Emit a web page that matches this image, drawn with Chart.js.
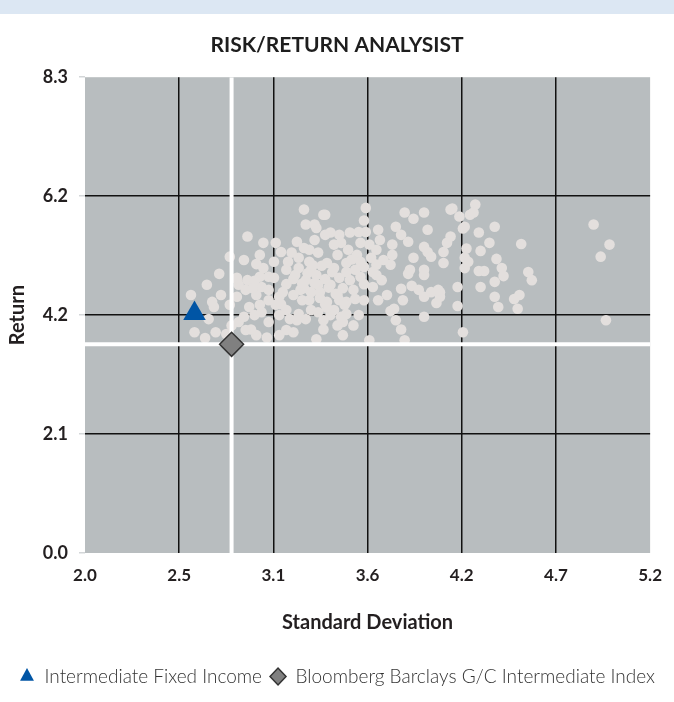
<!DOCTYPE html>
<html lang="en">
<head>
    <meta charset="UTF-8">
    <title>Risk/Return Analysist</title>
    <script src="https://cdn.jsdelivr.net/npm/chart.js@4.4.0/dist/chart.umd.min.js"></script>
    <style>
        body {
            margin: 0;
            background: #fff;
            font-family: Lato, sans-serif;
        }
        .wrap {
            position: relative;
            width: 674px;
            height: 702px;
        }
        .band {
            position: absolute;
            top: 0;
            left: 0;
            width: 674px;
            height: 14px;
            background: #dce7f3;
        }
    </style>
</head>
<body>
    <div class="wrap">
        <div class="band"></div>
        <canvas id="riskChart" width="674" height="702"></canvas>
    </div>

    <script>
        // peer group funds: standard deviation / return
        const peerRisk = [
            4.88, 4.97, 4.92, 4.95,
            4.08, 4.12, 4.21, 4.18, 4.20, 4.14, 4.15, 4.07, 4.05, 4.03, 4.03, 4.16, 4.15, 4.17, 4.15,
            4.01, 4.01, 4.11, 4.11, 4.14, 4.32, 4.23, 4.29, 4.24, 4.47, 4.23, 4.26, 4.33, 4.36, 4.37,
            4.24, 4.32, 4.32, 4.34, 4.43, 4.46, 4.45, 4.51, 4.53,
            3.36, 3.59, 3.58, 3.59, 3.81, 3.86, 3.92, 3.76, 3.79, 3.83, 3.94, 4.07, 3.67, 3.65, 3.65,
            3.63, 3.74, 3.73, 3.84, 3.92, 3.94, 3.96, 3.92, 3.50, 3.39, 3.45, 3.56, 3.54, 3.43, 3.37,
            3.48, 3.58, 3.48,
            3.63, 3.79, 3.85, 3.92, 3.96, 4.00, 3.99, 3.75, 3.73, 3.76, 3.79, 3.92, 3.61, 3.81, 3.46,
            3.43, 3.46, 3.39, 3.48, 3.53, 3.48, 3.43, 3.39, 3.58, 3.56, 3.37, 3.65, 3.83, 3.92,
            2.82, 2.92, 3.01, 3.08, 2.99, 2.97, 2.90, 3.24, 3.25, 3.31, 3.30, 3.35, 3.20, 3.17, 3.27,
            3.32, 3.14, 3.36,
            2.60, 2.69, 2.77, 2.86, 2.92, 2.99, 3.00, 3.04, 2.91, 2.87, 2.82, 2.73, 2.72, 2.70, 2.62,
            2.74, 2.80, 2.83, 2.87, 2.90, 2.97, 2.94, 2.91, 3.00, 3.04, 3.03, 3.10, 3.08, 3.10, 3.11,
            3.14, 3.18, 3.16, 3.14, 3.18, 3.14, 3.22, 3.23, 3.21, 3.25, 3.32, 3.36, 3.28, 3.32, 3.25,
            3.36, 3.35, 3.31, 2.76, 2.86, 2.97, 2.99, 2.93, 2.68, 2.86, 2.96, 3.07,
            3.15, 3.21, 3.27, 3.21, 3.28, 3.34, 3.31, 3.41, 3.44, 3.50, 3.46, 3.52, 3.41, 3.30, 3.24,
            3.49, 3.44, 3.55, 3.61, 3.62, 3.56, 3.53, 3.44, 3.27, 3.18, 3.24, 3.33, 3.41, 3.28, 3.20,
            3.10, 3.04, 3.01, 3.07, 3.11, 3.04, 2.96, 3.68, 3.71, 3.66, 3.69, 3.66, 3.74, 3.86, 3.89,
            3.80, 3.58, 3.55, 3.35, 3.52,
            3.26, 3.30, 3.38, 3.42, 3.47, 3.33, 3.40, 3.51, 3.23, 3.37, 3.45, 3.29, 3.19, 3.12, 2.95
        ];
        const peerReturn = [
            5.73, 5.38, 5.17, 4.06,
            6.01, 5.87, 6.08, 5.90, 5.94, 5.66, 5.69, 5.52, 5.41, 5.25, 5.06, 5.31, 5.15, 5.08, 4.97,
            4.55, 4.47, 4.64, 4.31, 3.85, 5.69, 5.59, 5.41, 5.27, 5.39, 4.92, 4.92, 5.13, 4.97, 4.83,
            4.64, 4.73, 4.47, 4.29, 4.43, 4.50, 4.26, 4.90, 4.76,
            5.90, 6.02, 5.80, 5.60, 5.94, 5.83, 5.94, 5.69, 5.55, 5.43, 5.64, 5.99, 5.46, 5.29, 5.03,
            4.90, 5.20, 5.03, 4.94, 5.34, 5.25, 5.17, 4.94, 5.59, 5.59, 5.41, 5.41, 5.20, 5.20, 5.06,
            5.06, 4.99, 4.90,
            4.64, 4.61, 4.66, 4.47, 4.55, 4.59, 4.36, 4.26, 4.22, 4.06, 3.90, 4.12, 3.71, 3.71, 3.80,
            3.97, 4.03, 4.15, 4.17, 4.43, 4.38, 4.50, 4.68, 4.69, 4.82, 4.38, 4.85, 4.87, 4.85,
            5.17, 5.52, 5.41, 5.41, 5.20, 5.04, 5.11, 5.99, 5.73, 5.67, 5.73, 5.90, 5.43, 5.24, 5.29,
            5.24, 4.94, 5.55,
            4.50, 4.68, 4.50, 4.78, 4.76, 4.82, 4.64, 4.82, 4.59, 4.68, 4.33, 4.29, 4.38, 4.08, 3.85,
            3.85, 3.82, 3.97, 4.03, 4.12, 3.80, 3.90, 3.89, 4.20, 4.03, 3.76, 3.80, 4.33, 4.47, 4.34,
            3.89, 3.85, 4.08, 4.24, 4.78, 4.69, 4.59, 4.41, 4.17, 4.08, 4.20, 4.34, 4.55, 4.68, 4.76,
            4.78, 3.90, 3.73, 4.87, 4.47, 4.50, 4.33, 4.29, 3.75, 4.80, 4.75, 4.80,
            5.08, 5.15, 5.08, 4.97, 4.94, 5.01, 4.85, 4.97, 4.80, 4.76, 4.62, 4.59, 5.38, 5.46, 5.32,
            5.29, 5.55, 5.60, 5.38, 5.15, 5.08, 4.94, 4.41, 4.41, 4.50, 4.62, 4.55, 4.24, 4.24, 4.06,
            4.15, 4.41, 4.97, 5.08, 5.25, 4.59, 4.15, 4.76, 4.50, 4.41, 5.11, 5.64, 5.38, 5.15, 4.59,
            4.41, 4.41, 4.15, 4.06, 3.97,
            4.88, 4.71, 4.63, 4.52, 4.33, 4.45, 4.90, 5.12, 4.70, 4.28, 4.12, 5.02, 4.85, 4.55, 4.62
        ];

        // the fund and its benchmark
        const fundRisk = [2.62];
        const fundReturn = [4.18];
        const benchRisk = [2.83];
        const benchReturn = [3.64];

        const xTickLabels = ['2.0', '2.5', '3.1', '3.6', '4.2', '4.7', '5.2'];
        const yTickLabels = ['0.0', '2.1', '4.2', '6.2', '8.3'];
        const xMin = 2.0, xMax = 5.2;
        const yMin = 0.0, yMax = 8.3;

        const peerPoints = peerRisk.map((r, i) => ({ x: r, y: peerReturn[i] }));
        const fundPoints = fundRisk.map((r, i) => ({ x: r, y: fundReturn[i] }));
        const benchPoints = benchRisk.map((r, i) => ({ x: r, y: benchReturn[i] }));

        // white crosshair through the benchmark
        const crossV = [{ x: benchRisk[0], y: yMin }, { x: benchRisk[0], y: yMax }];
        const crossH = [{ x: xMin, y: benchReturn[0] }, { x: xMax, y: benchReturn[0] }];

        const plotBg = {
            id: 'plotBg',
            beforeDraw(chart) {
                const { ctx, chartArea: a } = chart;
                ctx.save();
                ctx.fillStyle = '#b8bdbf';
                ctx.fillRect(a.left, a.top, a.right - a.left, a.bottom - a.top);
                ctx.restore();
            }
        };

        const inner = (ctx, n) => (ctx.index === 0 || ctx.index === n - 1) ? 'rgba(0,0,0,0)' : '#111';

        const chart = new Chart(document.getElementById('riskChart'), {
            type: 'scatter',
            data: {
                datasets: [
                    {
                        label: 'Intermediate Fixed Income',
                        data: fundPoints,
                        pointStyle: 'triangle',
                        pointRadius: 13,
                        backgroundColor: '#0055a5',
                        borderColor: '#0055a5',
                        borderWidth: 0,
                        order: 0
                    },
                    {
                        label: 'Bloomberg Barclays G/C Intermediate Index',
                        data: benchPoints,
                        pointStyle: 'rectRot',
                        pointRadius: 12,
                        backgroundColor: '#808080',
                        borderColor: '#333',
                        borderWidth: 1.5,
                        order: 1
                    },
                    {
                        label: 'crossV',
                        type: 'line',
                        data: crossV,
                        borderColor: '#fff',
                        borderWidth: 4,
                        pointRadius: 0,
                        order: 2
                    },
                    {
                        label: 'crossH',
                        type: 'line',
                        data: crossH,
                        borderColor: '#fff',
                        borderWidth: 4,
                        pointRadius: 0,
                        order: 2
                    },
                    {
                        label: 'peers',
                        data: peerPoints,
                        pointRadius: 5.3,
                        backgroundColor: '#e3dfdd',
                        borderWidth: 0,
                        order: 3
                    }
                ]
            },
            options: {
                responsive: false,
                animation: false,
                layout: { padding: { left: 0, right: 0, top: 0, bottom: 6 } },
                plugins: {
                    tooltip: { enabled: false },
                    title: {
                        display: true,
                        text: 'RISK/RETURN ANALYSIST',
                        color: '#1e1e1e',
                        font: { family: 'Lato', size: 21, weight: 'bold' },
                        padding: { top: 33, bottom: 19 }
                    },
                    legend: {
                        position: 'bottom',
                        labels: {
                            filter: (item) => item.datasetIndex < 2,
                            usePointStyle: true,
                            boxHeight: 12,
                            pointStyleWidth: 16,
                            padding: 8,
                            color: '#333',
                            font: { family: 'Lato', size: 19, weight: '300' }
                        }
                    }
                },
                scales: {
                    x: {
                        type: 'linear',
                        min: xMin,
                        max: xMax,
                        border: { display: false },
                        afterBuildTicks: (s) => {
                            s.ticks = xTickLabels.map((_, i) => ({ value: xMin + i * (xMax - xMin) / (xTickLabels.length - 1) }));
                        },
                        afterFit: (s) => { s.height = 106; },
                        grid: {
                            color: (c) => inner(c, xTickLabels.length),
                            lineWidth: 1.5,
                            drawTicks: false
                        },
                        ticks: {
                            padding: 12,
                            color: '#231f20',
                            font: { family: 'Lato', size: 17, weight: 'bold' },
                            maxRotation: 0,
                            callback: (v, i) => xTickLabels[i]
                        },
                        title: {
                            display: true,
                            text: 'Standard Deviation',
                            color: '#231f20',
                            font: { family: 'Lato', size: 20, weight: 'bold' },
                            padding: { top: 0, bottom: 24 }
                        }
                    },
                    y: {
                        type: 'linear',
                        min: yMin,
                        max: yMax,
                        border: { display: false },
                        afterBuildTicks: (s) => {
                            s.ticks = yTickLabels.map((_, i) => ({ value: yMin + i * (yMax - yMin) / (yTickLabels.length - 1) }));
                        },
                        afterFit: (s) => { s.width = 85; },
                        grid: {
                            color: (c) => inner(c, yTickLabels.length),
                            lineWidth: 1.5,
                            drawTicks: true,
                            tickLength: 6,
                            tickColor: '#d3d6d8'
                        },
                        ticks: {
                            padding: 11,
                            color: '#231f20',
                            font: { family: 'Lato', size: 18, weight: 'bold' },
                            callback: (v, i) => yTickLabels[i]
                        },
                        title: {
                            display: true,
                            text: 'Return',
                            color: '#231f20',
                            font: { family: 'Lato', size: 20, weight: 'bold' },
                            padding: { top: 6, bottom: 0 }
                        }
                    },
                    // empty right-hand margin axis so the plot ends at the same place as the original
                    yRight: {
                        type: 'linear',
                        position: 'right',
                        min: yMin,
                        max: yMax,
                        border: { display: false },
                        grid: { display: false },
                        ticks: { display: false },
                        afterFit: (s) => { s.width = 21; }
                    }
                }
            },
            plugins: [plotBg]
        });
    </script>
</body>
</html>
